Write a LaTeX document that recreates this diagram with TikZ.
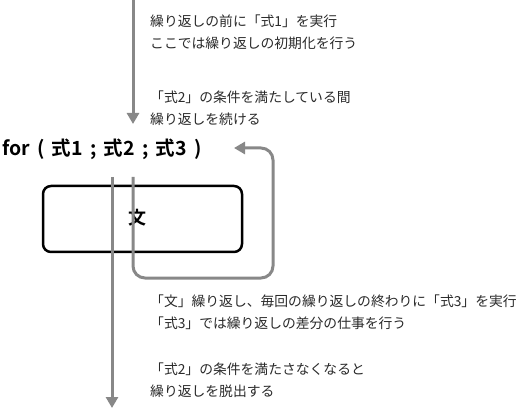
\documentclass[tikz,border=0pt]{standalone}
\usepackage{fontspec}
\newfontfamily\cjk{Noto Sans CJK JP}
\newfontfamily\cjkb{Noto Sans CJK JP Bold}
\usetikzlibrary{arrows.meta}
\definecolor{arrowgray}{HTML}{888888}
\definecolor{txt}{HTML}{2A2A2A}
\newcommand\fsp{\hspace{7.3pt}}
\begin{document}
\begin{tikzpicture}[x=1pt,y=-1pt,
  flow/.style={draw=arrowgray,line width=3pt,-{Triangle[length=11pt,width=12pt]}},
  note/.style={anchor=west,inner sep=0pt,font=\cjk\fontsize{13.8}{22}\selectfont,text=txt,align=left},
  stmtbox/.style={draw=black,line width=2.5pt,rounded corners=8pt}]
\useasboundingbox (0,0) rectangle (521,411);
% texts
\node[note] (t1) at (150,32) {繰り返しの前に「式1」を実行\\ここでは繰り返しの初期化を行う};
\node[note] (t2) at (150,108) {「式2」の条件を満たしている間\\繰り返しを続ける};
\node[note] (t3) at (150,312) {「文」繰り返し、毎回の繰り返しの終わりに「式3」を実行\\「式3」では繰り返しの差分の仕事を行う};
\node[note] (t4) at (150,380) {「式2」の条件を満たさなくなると\\繰り返しを脱出する};
\node[anchor=west,inner sep=0pt,font=\cjkb\fontsize{19.5}{22}\selectfont] (for) at (2,149) {for\fsp{}(\fsp{}式1\fsp{};\fsp{}式2\fsp{};\fsp{}式3\fsp{})};
\draw[stmtbox] (43,186) rectangle (242,252);
\node[font=\cjkb\fontsize{18}{22}\selectfont] (body) at (137,218) {文};
% arrows
\coordinate (top) at (133,0);
\coordinate (forin) at (133,124);
\draw[flow] (top) -- (forin);
\coordinate (ls) at (133,177);
\coordinate (le) at (234,148);
\draw[flow,rounded corners=12pt] (ls) -- (133,278) -- (273,278) -- (273,148) -- (le);
\coordinate (xs) at (112,177);
\coordinate (xe) at (112,408);
\draw[flow] (xs) -- (xe);
\end{tikzpicture}
\end{document}
